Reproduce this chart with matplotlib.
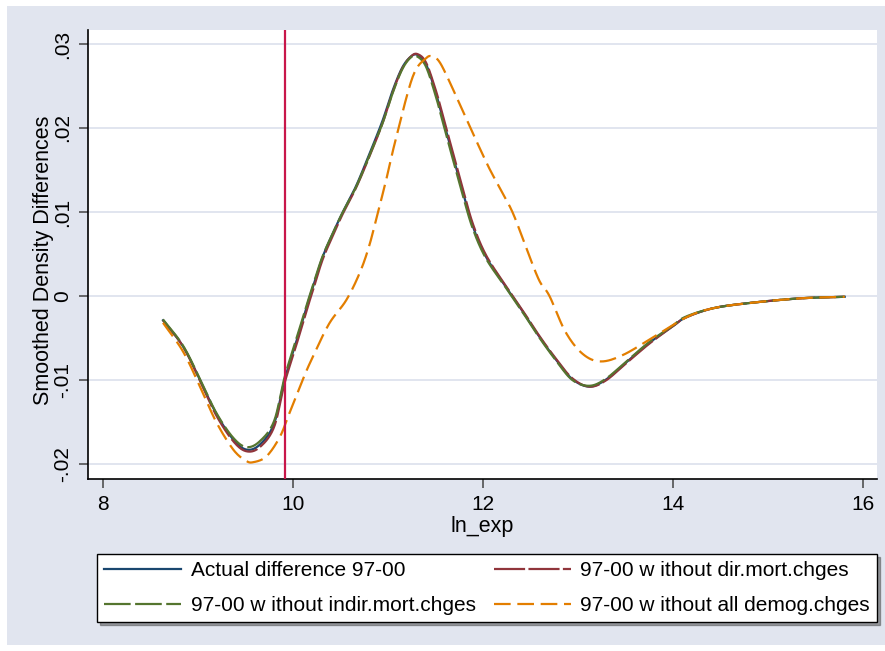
import numpy as np
import matplotlib
matplotlib.use("Agg")
import matplotlib.pyplot as plt
from matplotlib.patches import Rectangle

plt.rcParams['font.family'] = ['Liberation Sans', 'DejaVu Sans']

# ln_exp grid
x_grid = [8.63, 8.84, 9.02, 9.19, 9.37, 9.51, 9.65, 9.80, 9.91, 10.03, 10.14,
          10.21, 10.31, 10.42, 10.52, 10.66, 10.80, 10.94, 11.05, 11.15, 11.24,
          11.31, 11.40, 11.50, 11.57, 11.68, 11.78, 11.89, 12.03, 12.24, 12.41,
          12.59, 12.77, 12.94, 13.12, 13.29, 13.50, 13.75, 13.99, 14.13, 14.41,
          14.76, 15.32, 15.81]

actual = [-0.0029, -0.0060, -0.0100, -0.0140, -0.0171, -0.0183, -0.0177, -0.0152,
          -0.0100, -0.0056, -0.0014, 0.0011, 0.0046, 0.0075, 0.0099, 0.0130,
          0.0168, 0.0208, 0.0245, 0.0272, 0.0285, 0.0287, 0.0276, 0.0243,
          0.0214, 0.0168, 0.0127, 0.0084, 0.0047, 0.0011, -0.0017, -0.0048,
          -0.0076, -0.0099, -0.0108, -0.0100, -0.0080, -0.0056, -0.0037,
          -0.0026, -0.0015, -0.0009, -0.0003, -0.0001]

no_dir = [-0.0029, -0.0060, -0.0101, -0.0142, -0.0173, -0.0185, -0.0180, -0.0156,
          -0.0104, -0.0060, -0.0018, 0.0007, 0.0043, 0.0072, 0.0097, 0.0128,
          0.0165, 0.0205, 0.0243, 0.0271, 0.0285, 0.0288, 0.0278, 0.0246,
          0.0218, 0.0172, 0.0131, 0.0087, 0.0049, 0.0012, -0.0016, -0.0047,
          -0.0075, -0.0098, -0.0108, -0.0101, -0.0081, -0.0057, -0.0037,
          -0.0026, -0.0015, -0.0009, -0.0003, -0.0001]

no_indir = [-0.0028, -0.0059, -0.0099, -0.0139, -0.0169, -0.0180, -0.0173, -0.0149,
            -0.0097, -0.0053, -0.0012, 0.0013, 0.0047, 0.0075, 0.0099, 0.0129,
            0.0166, 0.0205, 0.0242, 0.0270, 0.0284, 0.0285, 0.0273, 0.0239,
            0.0210, 0.0164, 0.0123, 0.0081, 0.0045, 0.0010, -0.0018, -0.0049,
            -0.0077, -0.0100, -0.0107, -0.0099, -0.0079, -0.0055, -0.0036,
            -0.0025, -0.0015, -0.0009, -0.0003, -0.0001]

x_demog = [8.63, 8.84, 9.02, 9.19, 9.37, 9.50, 9.58, 9.72, 9.86, 9.96, 10.10,
           10.21, 10.38, 10.56, 10.70, 10.80, 10.89, 10.98, 11.08, 11.26, 11.40,
           11.47, 11.54, 11.64, 11.82, 12.04, 12.17, 12.31, 12.45, 12.59, 12.70,
           12.87, 13.05, 13.24, 13.48, 13.81, 14.15, 14.41, 14.76, 15.32, 15.81]
no_demog = [-0.0032, -0.0066, -0.0108, -0.0150, -0.0183, -0.0196, -0.0198, -0.0191,
            -0.0168, -0.0140, -0.0100, -0.0072, -0.0033, -0.0005, 0.0027, 0.0059,
            0.0098, 0.0138, 0.0186, 0.0261, 0.0283, 0.0285, 0.0279, 0.0257,
            0.0212, 0.0158, 0.0130, 0.0100, 0.0059, 0.0019, 0.0000, -0.0043,
            -0.0069, -0.0078, -0.0070, -0.0048, -0.0025, -0.0015, -0.0009,
            -0.0003, -0.0001]

x_line = 9.91
y_ticks = [-0.02, -0.01, 0, 0.01, 0.02, 0.03]
y_tick_labels = ['-.02', '-.01', '0', '.01', '.02', '.03']
x_ticks = [8, 10, 12, 14, 16]
labels = ['Actual difference 97-00', '97-00 w ithout dir.mort.chges',
          '97-00 w ithout indir.mort.chges', '97-00 w ithout all demog.chges']


def smooth(xs, ys, n=16):
    # Catmull-Rom spline through the read points, only to draw a smooth curve
    xs = np.asarray(xs, float)
    ys = np.asarray(ys, float)
    px = np.concatenate([[2 * xs[0] - xs[1]], xs, [2 * xs[-1] - xs[-2]]])
    py = np.concatenate([[2 * ys[0] - ys[1]], ys, [2 * ys[-1] - ys[-2]]])
    t = np.linspace(0, 1, n, endpoint=False)
    ox, oy = [], []
    for i in range(1, len(px) - 2):
        for p, o in ((px, ox), (py, oy)):
            p0, p1, p2, p3 = p[i - 1], p[i], p[i + 1], p[i + 2]
            o.extend(0.5 * (2 * p1 + (-p0 + p2) * t
                            + (2 * p0 - 5 * p1 + 4 * p2 - p3) * t ** 2
                            + (-p0 + 3 * p1 - 3 * p2 + p3) * t ** 3))
    ox.append(xs[-1])
    oy.append(ys[-1])
    return np.array(ox), np.array(oy)


fig = plt.figure(figsize=(8.85, 6.51), dpi=100, facecolor='white')
fig.patches.append(Rectangle((7 / 885, 6 / 651), 1 - 7 / 885, 1 - 12 / 651,
                             transform=fig.transFigure, facecolor='#e1e5ef',
                             edgecolor='none', zorder=-10))

ax = fig.add_axes([88 / 885, 1 - 479 / 651, 789 / 885, 449 / 651])
ax.set_facecolor('white')

for y in y_ticks:
    ax.axhline(y, color='#e1e5ef', lw=1.4, zorder=1)

lw = 1.6
l1, = ax.plot(*smooth(x_grid, actual), color='#1a476f', lw=lw, zorder=3)
l2, = ax.plot(*smooth(x_grid, no_dir), color='#90353b', lw=lw, zorder=3,
              dashes=(14, 1.5))
l3, = ax.plot(*smooth(x_grid, no_indir), color='#55752f', lw=lw, zorder=3,
              dashes=(12, 2))
l4, = ax.plot(*smooth(x_demog, no_demog), color='#e37e00', lw=lw, zorder=3,
              dashes=(7.5, 3))

ax.axvline(x_line, color='#c8174a', lw=1.6, zorder=4)

ax.set_xlim(7.84, 16.15)
ax.set_ylim(-0.0218, 0.03167)
ax.set_xticks(x_ticks)
ax.set_yticks(y_ticks)
ax.set_yticklabels(y_tick_labels, rotation=90, va='center')
ax.tick_params(axis='both', direction='out', length=6.5, width=1.1,
               color='#444444', labelsize=15, pad=5)

for side in ('top', 'right'):
    ax.spines[side].set_visible(False)
for side in ('left', 'bottom'):
    ax.spines[side].set_linewidth(1.2)
    ax.spines[side].set_color('black')

ax.set_xlabel('ln_exp', fontsize=15.5, va='center')
ax.xaxis.set_label_coords(0.5, -0.106)
ax.set_ylabel('Smoothed Density Differences', fontsize=15.5, va='center')
ax.yaxis.set_label_coords(-0.056, 0.488)

# column-major fill, so order gives rows: (actual, dir), (indir, demog)
leg = fig.legend([l1, l3, l2, l4], [labels[0], labels[2], labels[1], labels[3]],
                 ncol=2, mode='expand',
                 loc='center', bbox_to_anchor=(97 / 885, 1 - 624 / 651,
                                               780 / 885, 72 / 651),
                 fontsize=15, handlelength=3.7, handletextpad=0.45,
                 labelspacing=0.75, borderaxespad=0, borderpad=0.35,
                 columnspacing=0.5,
                 fancybox=False, shadow=True, framealpha=1,
                 edgecolor='black', facecolor='white')
leg.get_frame().set_linewidth(1.0)

fig.savefig('out.png', dpi=100, facecolor=fig.get_facecolor())
